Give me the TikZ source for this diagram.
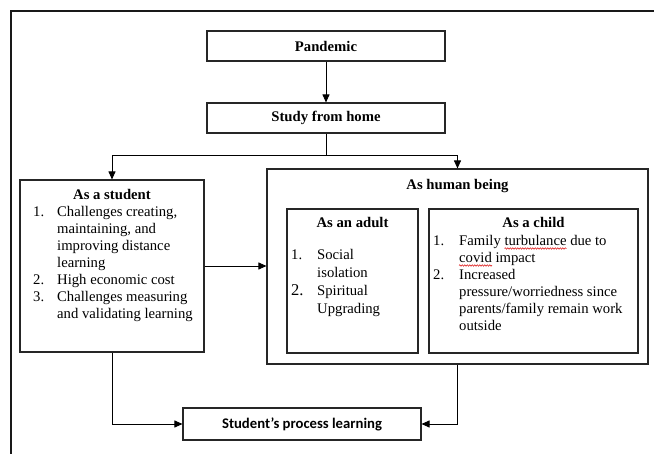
\documentclass[tikz,border=0pt]{standalone}
\usepackage{fontspec}
\setmainfont{Liberation Serif}
\newfontfamily\calibri{Carlito}
\usepackage{array}
\usetikzlibrary{arrows.meta,decorations.pathmorphing}
\begin{document}
\begin{tikzpicture}[x=1pt,y=-1pt,
  font=\fontsize{14.7}{17}\selectfont,
  box/.style={draw=black!85, line width=1.1pt, inner sep=0pt},
  conn/.style={draw=black, line width=0.9pt, -{Triangle[length=8pt,width=7pt]}},
  ttl/.style={font=\fontsize{14.7}{17}\selectfont\bfseries, anchor=base, inner sep=0pt},
  lst/.style={anchor=north west, inner sep=0pt, align=left},
  wave/.style={draw=red!85!black, line width=0.5pt, decorate, decoration={snake, segment length=2.5pt, amplitude=0.7pt}}]
\useasboundingbox (0,0) rectangle (654,454);
% outer frame (cropped)
\draw[line width=1.5pt, black!90] (11,454) -- (11,11) -- (654,11);
% boxes
\node[box, minimum width=238pt, minimum height=30pt, font=\fontsize{14.7}{17}\selectfont\bfseries] (pandemic) at (326,46) {Pandemic};
\node[box, minimum width=238pt, minimum height=30pt, font=\fontsize{14.7}{17}\selectfont\bfseries] (study) at (326,118) {Study from home};
\node[box, minimum width=184pt, minimum height=172pt] (student) at (112,266) {};
\node[box, minimum width=381pt, minimum height=195pt] (human) at (457.5,266.5) {};
\node[box, minimum width=131pt, minimum height=144pt] (adult) at (352.5,281) {};
\node[box, minimum width=209pt, minimum height=144pt] (child) at (533.5,281) {};
\node[box, minimum width=238pt, minimum height=32pt, font=\calibri\fontsize{14.7}{17}\selectfont\bfseries] (spl) at (302,424) {Student’s process learning};
% titles
\node[ttl] (sttl) at (112,200) {As a student};
\node[ttl] (httl) at (457.5,190) {As human being};
\node[ttl] (attl) at (352.5,228) {As an adult};
\node[ttl] (cttl) at (533.5,228) {As a child};
% lists
\node[lst] (stlist) at (33,204) {\begin{tabular}{@{}p{24pt}@{}l@{}}
1. & Challenges creating,\\
   & maintaining, and\\
   & improving distance\\
   & learning\\
2. & High economic cost\\
3. & Challenges measuring\\
   & and validating learning
\end{tabular}};
\node[lst] (adlist) at (291,247) {\renewcommand\arraystretch{1.06}\begin{tabular}{@{}p{26pt}@{}l@{}}
1. & Social\\
   & isolation\\
{\fontsize{16.5}{17}\selectfont 2.} & Spiritual\\
   & Upgrading
\end{tabular}};
\node[lst] (chlist) at (433,233) {\begin{tabular}{@{}p{26pt}@{}l@{}}
1. & Family turbulance due to\\
   & covid impact\\
2. & Increased\\
   & pressure/worriedness since\\
   & parents/family remain work\\
   & outside
\end{tabular}};
% spell-check underlines
\draw[wave] (504.5,248.5) -- (566.5,248.5);
\draw[wave] (459,265.5) -- (492,265.5);
% connectors
\draw[conn] (pandemic.south) -- (study.north);
\draw[line width=0.9pt] (study.south) -- ++(0,22) coordinate (split);
\draw[conn] (split) -| (student.north);
\draw[conn] (split) -| (human.north);
\draw[conn] (student.east) -- (human.west |- student.east);
\draw[conn] (student.south) |- (spl.west);
\draw[conn] (human.south) |- (spl.east);
\end{tikzpicture}
\end{document}
